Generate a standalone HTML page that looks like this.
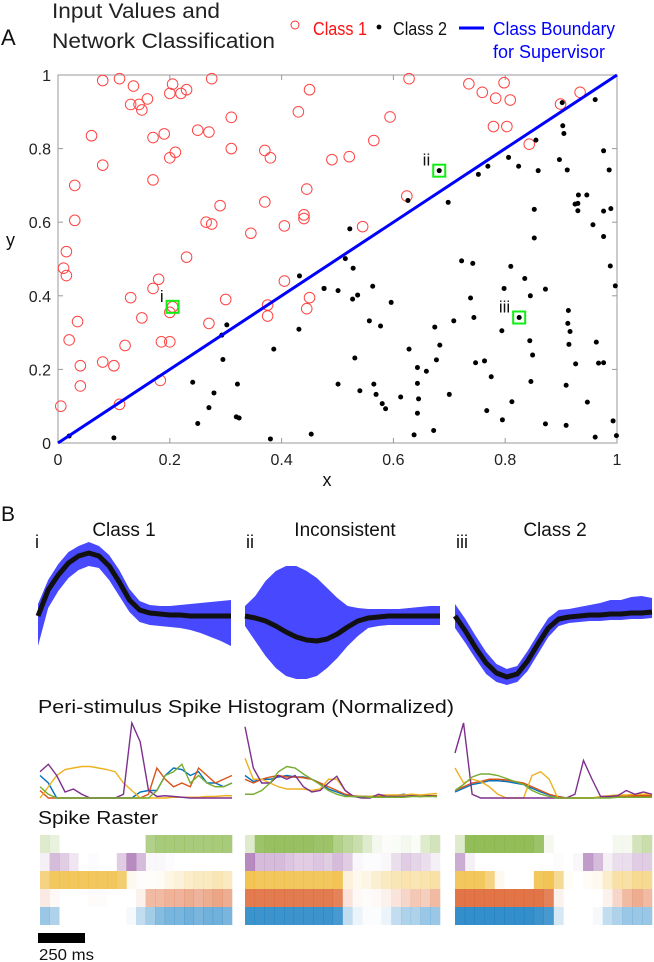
<!DOCTYPE html>
<html><head><meta charset="utf-8"><style>
html,body{margin:0;padding:0;background:#fff;}
svg{display:block;font-family:"Liberation Sans",sans-serif;}
</style></head><body>
<svg id="fig" width="654" height="962" viewBox="0 0 654 962" xmlns="http://www.w3.org/2000/svg">
<text x="1" y="45" font-size="22" fill="#111">A</text>
<text x="52" y="18" font-size="21" fill="#222" textLength="168" lengthAdjust="spacingAndGlyphs">Input Values and</text>
<text x="52" y="48" font-size="21" fill="#222" textLength="223" lengthAdjust="spacingAndGlyphs">Network Classification</text>
<g>
<circle cx="295" cy="25" r="4" fill="none" stroke="#f33" stroke-width="1"/>
<text x="313" y="35" font-size="18" fill="#f11" textLength="54" lengthAdjust="spacingAndGlyphs">Class 1</text>
<circle cx="379" cy="27" r="2.4" fill="#000"/>
<text x="393" y="35" font-size="18" fill="#111" textLength="54" lengthAdjust="spacingAndGlyphs">Class 2</text>
<line x1="459" y1="28" x2="484" y2="28" stroke="#00f" stroke-width="3"/>
<text x="493" y="35" font-size="18" fill="#00f" textLength="122" lengthAdjust="spacingAndGlyphs">Class Boundary</text>
<text x="493" y="58" font-size="18" fill="#00f" textLength="112" lengthAdjust="spacingAndGlyphs">for Supervisor</text>
</g>
<g id="scatter"></g>
<text x="1" y="521" font-size="21" fill="#111">B</text>
<text x="124" y="536" font-size="19" fill="#111" text-anchor="middle">Class 1</text>
<text x="345" y="536" font-size="19" fill="#111" text-anchor="middle">Inconsistent</text>
<text x="555" y="536" font-size="19" fill="#111" text-anchor="middle">Class 2</text>
<text x="35" y="548" font-size="18" fill="#111">i</text>
<text x="246" y="548" font-size="18" fill="#111">ii</text>
<text x="456" y="548" font-size="18" fill="#111">iii</text>
<g id="waves"></g>
<text x="38" y="713" font-size="18" fill="#111" textLength="416" lengthAdjust="spacingAndGlyphs">Peri-stimulus Spike Histogram (Normalized)</text>
<g id="psth"></g>
<text x="38" y="824" font-size="18.5" fill="#111" textLength="120" lengthAdjust="spacingAndGlyphs">Spike Raster</text>
<g id="raster"></g>
<rect x="38" y="933" width="47" height="10" fill="#000"/>
<text x="39" y="960" font-size="16" fill="#111" textLength="55" lengthAdjust="spacingAndGlyphs">250 ms</text>
</svg>
<script>
const NS="http://www.w3.org/2000/svg";
// ---- scatter data ----
const class1X=[0.11,0.08,0.205,0.275,0.135,0.23,0.2,0.22,0.45,0.16,0.145,0.13,0.15,0.43,0.31,0.06,0.17,0.19,0.25,0.27,0.21,0.2,0.31,0.37,0.38,0.08,0.17,0.03,0.445,0.03,0.37,0.29,0.265,0.275,0.44,0.44,0.405,0.345,0.015,0.01,0.015,0.23,0.18,0.17,0.405,0.13,0.3,0.45,0.445,0.375,0.375,0.2,0.205,0.15,0.035,0.27,0.185,0.2,0.02,0.12,0.08,0.1,0.04,0.04,0.183,0.11,0.005,0.49,0.521,0.565,0.594,0.628,0.735,0.759,0.783,0.798,0.809,0.779,0.803,0.843,0.899,0.934,0.624,0.545];
const class1Y=[0.99,0.985,0.975,0.99,0.97,0.96,0.95,0.95,0.96,0.935,0.92,0.92,0.905,0.9,0.885,0.835,0.83,0.84,0.85,0.845,0.79,0.775,0.8,0.795,0.775,0.755,0.715,0.7,0.69,0.605,0.655,0.645,0.6,0.595,0.62,0.61,0.59,0.57,0.52,0.475,0.455,0.505,0.445,0.42,0.44,0.395,0.39,0.395,0.365,0.375,0.345,0.355,0.37,0.34,0.33,0.325,0.275,0.275,0.28,0.265,0.22,0.21,0.21,0.155,0.17,0.105,0.1,0.77,0.778,0.822,0.886,0.99,0.976,0.953,0.937,0.979,0.932,0.86,0.86,0.812,0.921,0.953,0.671,0.588];
const class2X=[0.902,0.961,0.903,0.905,0.855,0.976,0.806,0.897,0.769,0.824,0.752,0.859,0.911,0.986,0.682,0.931,0.946,0.925,0.93,0.93,0.852,0.976,0.989,0.626,0.698,0.957,0.976,0.852,0.522,0.514,0.528,0.722,0.742,0.81,0.988,0.835,0.798,0.872,0.997,0.476,0.501,0.563,0.527,0.536,0.596,0.738,0.845,0.744,0.708,0.825,0.913,0.912,0.916,0.914,0.557,0.577,0.674,0.794,0.844,0.963,0.683,0.849,0.628,0.531,0.677,0.747,0.763,0.926,0.967,0.976,0.643,0.659,0.775,0.501,0.565,0.643,0.846,0.909,0.54,0.569,0.613,0.645,0.7,0.58,0.586,0.812,0.947,0.643,0.767,0.795,0.872,0.909,0.993,0.637,0.672,0.961,0.999,0.02,0.1,0.432,0.476,0.302,0.293,0.431,0.386,0.295,0.241,0.321,0.279,0.27,0.25,0.319,0.324,0.38,0.453];
const class2Y=[0.925,0.933,0.862,0.841,0.823,0.794,0.776,0.77,0.752,0.752,0.73,0.74,0.742,0.742,0.74,0.674,0.674,0.649,0.651,0.631,0.635,0.63,0.637,0.659,0.654,0.593,0.561,0.557,0.582,0.501,0.475,0.495,0.488,0.48,0.481,0.447,0.42,0.418,0.427,0.42,0.414,0.426,0.391,0.402,0.382,0.394,0.4,0.341,0.332,0.341,0.36,0.325,0.303,0.268,0.332,0.318,0.315,0.305,0.278,0.274,0.266,0.239,0.255,0.231,0.226,0.218,0.223,0.215,0.217,0.218,0.205,0.195,0.18,0.16,0.16,0.162,0.167,0.157,0.142,0.132,0.125,0.12,0.132,0.107,0.093,0.112,0.111,0.081,0.088,0.063,0.052,0.048,0.06,0.022,0.034,0.016,0.02,0.019,0.014,0.454,0.42,0.321,0.293,0.309,0.255,0.227,0.165,0.16,0.136,0.096,0.053,0.071,0.068,0.011,0.024];
const highlightX=[0.205,0.682,0.825];
const highlightY=[0.37,0.74,0.341];
const highlightLabels=["i","ii","iii"];
const xTicks=[0,0.2,0.4,0.6,0.8,1];
const xTickLabels=["0","0.2","0.4","0.6","0.8","1"];
const yTicks=[0,0.2,0.4,0.6,0.8,1];
const yTickLabels=["0","0.2","0.4","0.6","0.8","1"];

const X0=58,X1=617,Y0=443,Y1=75;
const sx=v=>X0+v*(X1-X0), sy=v=>Y0-v*(Y0-Y1);
function mk(tag,attrs,parent){const e=document.createElementNS(NS,tag);for(const k in attrs)e.setAttribute(k,attrs[k]);parent.appendChild(e);return e;}
const sc=document.getElementById('scatter');
let box=mk('rect',{x:X0,y:Y1,width:X1-X0,height:Y0-Y1,fill:'none',stroke:'#999','stroke-width':1},sc);


xTicks.forEach((t,i)=>{
  let l=mk('line',{x1:sx(t),x2:sx(t),y1:Y0,y2:Y0-5,stroke:'#999'},sc);
  
  
  let l2=mk('line',{x1:sx(t),x2:sx(t),y1:Y1,y2:Y1+5,stroke:'#999'},sc);
  
  
  let tx=mk('text',{x:sx(t),y:Y0+22,'font-size':16,fill:'#222','text-anchor':'middle'},sc);tx.textContent=xTickLabels[i];
  
  
});
yTicks.forEach((t,i)=>{
  let l=mk('line',{x1:X0,x2:X0+5,y1:sy(t),y2:sy(t),stroke:'#999'},sc);
  
  
  let l2=mk('line',{x1:X1,x2:X1-5,y1:sy(t),y2:sy(t),stroke:'#999'},sc);
  
  
  let tx=mk('text',{x:X0-7,y:sy(t)+6,'font-size':16,fill:'#222','text-anchor':'end'},sc);tx.textContent=yTickLabels[i];
  
  
});
let xl=mk('text',{x:327,y:486,'font-size':18,fill:'#111','text-anchor':'middle'},sc);xl.textContent='x';


let yl=mk('text',{x:6,y:246,'font-size':18,fill:'#111'},sc);yl.textContent='y';


class1X.forEach((x,i)=>{
  let c=mk('circle',{cx:sx(x),cy:sy(class1Y[i]),r:5.3,fill:'none',stroke:'#f44','stroke-width':1},sc);
  
  
});
class2X.forEach((x,i)=>{
  let c=mk('circle',{cx:sx(x),cy:sy(class2Y[i]),r:2.5,fill:'#000'},sc);
  
  
});
let bl=mk('line',{x1:sx(0),y1:sy(0),x2:sx(1),y2:sy(1),stroke:'#00f','stroke-width':3},sc);


highlightX.forEach((x,i)=>{
  let r=mk('rect',{x:sx(x)-6,y:sy(highlightY[i])-6,width:12,height:12,fill:'none',stroke:'#1e1','stroke-width':2},sc);
  
  
  let t=mk('text',{x:sx(x)-9,y:sy(highlightY[i])-5,'font-size':17,fill:'#111','text-anchor':'end'},sc);t.textContent=highlightLabels[i];
  
  
});

// ---- waveform data (amplitude px above baseline) ----
const wave1Mean=[0,26,41,53,60,63,60,50,34,16,6,3,2,1,1,0,0,0,0,0];
const wave1Up=[12,36,52,64,70,74,70,61,46,27,15,11,10,10,11,12,13,14,15,16];
const wave1Lo=[-30,8,25,38,46,50,48,36,20,4,-6,-9,-10,-11,-12,-14,-17,-21,-25,-30];
const wave2Mean=[0,-2,-5,-10,-16,-21,-24,-25,-23,-18,-11,-5,-2,-1,0,0,0,0,0,0];
const wave2Up=[10,20,35,45,50,50,45,38,28,18,10,8,7,7,7,7,8,9,10,10];
const wave2Lo=[-10,-25,-40,-52,-60,-63,-63,-60,-52,-42,-30,-20,-12,-10,-9,-9,-9,-9,-9,-9];
const wave3Mean=[0,-15,-32,-47,-57,-61,-58,-45,-28,-12,-3,-1,0,1,1,2,2,3,3,4];
const wave3Up=[12,-3,-20,-36,-48,-53,-50,-35,-18,-2,6,7,9,11,13,16,16,19,20,18];
const wave3Lo=[-12,-27,-43,-58,-66,-69,-66,-55,-38,-21,-10,-7,-6,-5,-5,-4,-4,-3,-3,-2];
const wavePanels=[[38,231,wave1Mean,wave1Up,wave1Lo],[245,440,wave2Mean,wave2Up,wave2Lo],[455,652,wave3Mean,wave3Up,wave3Lo]];
const WB=616;
const wg=document.getElementById('waves');
wavePanels.forEach(p=>{
  const [a,b,m,u,l]=p;const n=m.length;const px=i=>a+i*(b-a)/(n-1);
  let d='M'+u.map((v,i)=>px(i)+','+(WB-v)).join(' L');
  for(let i=n-1;i>=0;i--)d+=' L'+px(i)+','+(WB-l[i]);
  let e=mk('path',{d:d+'Z',fill:'#1a1aff',opacity:0.8},wg);
  
  
  let ln=mk('polyline',{points:m.map((v,i)=>px(i)+','+(WB-v)).join(' '),fill:'none',stroke:'#111','stroke-width':5,'stroke-linejoin':'round'},wg);
  
  
});

// ---- PSTH data (normalized) ----
const colors=['#0072BD','#D95319','#EDB120','#7E2F8E','#77AC30'];
const psth1Blue=[.3,.2,0,0,0,0,0,0,0,0,0,0,.08,.1,.1,.3,.4,.38,.3,.35,.2,.2,.15,.2];
const psth1Orange=[.1,0,0,0,0,0,0,0,0,0,0,0,0,.05,.4,.25,.15,.2,.15,.4,.3,.2,.25,.3];
const psth1Yellow=[0,.15,.3,.38,.4,.42,.42,.4,.38,.35,.2,.1,0,0,0,0,.01,.01,.01,.01,.02,.02,.03,.03];
const psth1Purple=[.35,.45,.3,.08,.12,.05,0,0,0,0,.05,1,.75,.1,.02,.03,.02,.01,0,0,0,0,0,0];
const psth1Green=[.15,.05,0,0,0,0,0,0,0,0,0,0,0,0,.1,.3,.35,.45,.2,.3,.2,.15,.15,.2];
const psth2Blue=[.3,.22,.25,.25,.28,.3,.28,.28,.25,.2,.12,.08,.04,.02,.02,.02,.02,.02,.03,.05,.03,.02,.03,.02];
const psth2Orange=[.25,.2,.25,.28,.3,.28,.28,.27,.25,.2,.15,.1,.05,.03,.02,.02,.02,.02,.03,.03,.03,.03,.03,.03];
const psth2Yellow=[.53,.25,.25,.2,.15,.12,.12,.12,.1,.12,.25,.25,.1,.02,.02,.02,.04,.04,.04,.04,.05,.04,.05,.06];
const psth2Purple=[.95,.4,.2,.2,.3,.25,.3,.15,.08,.1,.2,.29,.1,.02,0,0,.05,.02,.02,.02,.03,.02,.03,.02];
const psth2Green=[.05,.05,.1,.2,.35,.42,.4,.32,.25,.18,.1,.05,.02,.02,.02,.01,.01,.01,.01,.01,.02,.02,.02,.02];
const psth3Blue=[.08,.13,.18,.2,.23,.23,.22,.2,.18,.13,.08,.04,.02,0,0,0,0,.01,.01,.02,.02,.02,.02,.02];
const psth3Orange=[.1,.15,.2,.22,.25,.25,.24,.22,.2,.15,.1,.05,.02,0,0,0,0,.01,.02,.02,.03,.03,.03,.03];
const psth3Yellow=[.4,.2,.25,.22,.15,.05,0,0,0,.3,.35,.25,0,0,0,0,0,.02,.03,.04,.04,.05,.05,.05];
const psth3Purple=[.6,1,.05,0,0,0,0,0,0,0,0,0,0,0,.05,.5,.25,.02,.02,.03,.1,.05,.08,.05];
const psth3Green=[.1,.18,.28,.32,.32,.3,.26,.22,.18,.1,.05,.02,0,0,0,0,0,0,0,.01,.01,.01,.01,.01];
const psthPanels=[[40,232,[psth1Blue,psth1Orange,psth1Yellow,psth1Purple,psth1Green]],[245,437,[psth2Blue,psth2Orange,psth2Yellow,psth2Purple,psth2Green]],[455,652,[psth3Blue,psth3Orange,psth3Yellow,psth3Purple,psth3Green]]];
const PB=798,PH=75;
const pg=document.getElementById('psth');
psthPanels.forEach(p=>{
  const [a,b,series]=p;
  series.forEach((s,k)=>{
    const n=s.length;
    let ln=mk('polyline',{points:s.map((v,i)=>(a+i*(b-a)/(n-1))+','+(PB-v*PH)).join(' '),fill:'none',stroke:colors[k],'stroke-width':1.4},pg);
    
    
  });
});

// ---- raster density data (rows: green, purple, yellow, orange, blue) ----
const rasterColors=['#77AC30','#7E2F8E','#EDB120','#D95319','#0072BD'];
const r1Green=[.3,.2,0,0,0,0,0,0,0,0,0,.7,.8,.8,.8,.8,.8,.8,.8,.8];
const r1Purple=[.1,.4,.3,.15,0,.02,0,0,.3,.7,.4,.05,.05,.02,0,0,0,0,0,0];
const r1Yellow=[.7,.9,.9,.9,.9,.9,.9,.9,.8,.1,.02,.02,.05,.15,.2,.3,.35,.35,.4,.35];
const r1Orange=[.15,.05,0,0,0,.02,.02,0,0,0,.1,.5,.5,.55,.55,.6,.55,.6,.65,.6];
const r1Blue=[.5,.4,0,0,0,0,0,0,0,.05,.3,.45,.6,.65,.65,.7,.65,.7,.7,.65];
const r2Green=[.3,.9,.95,.95,.95,.95,.95,.9,.9,.7,.6,.5,.3,.1,.02,.05,.1,.05,.3,.4];
const r2Purple=[.7,.4,.4,.4,.35,.3,.3,.35,.3,.4,.3,.05,.02,.02,.05,.2,.3,.25,.2,.1];
const r2Yellow=[.95,.9,.9,.9,.9,.9,.9,.9,.9,.95,.2,.1,.15,.25,.35,.4,.45,.4,.45,.5];
const r2Orange=[.95,.95,.95,.95,.95,.95,.95,.95,.95,.9,.2,.05,.02,.05,.1,.2,.3,.4,.35,.5];
const r2Blue=[.95,.95,.95,.95,.95,.95,.95,.95,.95,.9,.3,.1,.02,.02,.1,.3,.4,.4,.5,.5];
const r3Green=[.3,1,1,1,1,1,1,1,.9,.1,0,0,0,0,0,0,.1,.1,.4,.5];
const r3Purple=[.5,.1,0,0,0,0,0,0,0,0,.02,0,.05,.6,.4,.1,.2,.2,.3,.3];
const r3Yellow=[.9,.9,.9,.7,.1,0,0,0,.9,.95,.6,.05,0,.05,.1,.3,.5,.5,.6,.6];
const r3Orange=[1,1,1,1,1,1,1,1,1,.9,.1,0,0,0,0,.1,.3,.5,.6,.5];
const r3Blue=[1,1,1,1,1,1,1,1,.95,.9,.2,0,0,0,.05,.3,.4,.5,.5,.5];
const rasterPanels=[[40,232,[r1Green,r1Purple,r1Yellow,r1Orange,r1Blue]],[245,440,[r2Green,r2Purple,r2Yellow,r2Orange,r2Blue]],[455,652,[r3Green,r3Purple,r3Yellow,r3Orange,r3Blue]]];
const RT=835,RH=18;
const rg=document.getElementById('raster');
rasterPanels.forEach(p=>{
  const [a,b,rows]=p;
  rows.forEach((row,k)=>{
    const n=row.length,w=(b-a)/n;
    row.forEach((v,i)=>{
      if(v<=0)return;
      let r=mk('rect',{x:a+i*w,y:RT+k*RH,width:w+0.3,height:RH,fill:rasterColors[k],opacity:(v*0.8).toFixed(2)},rg);
      
      
    });
  });
});
</script>
</body></html>
